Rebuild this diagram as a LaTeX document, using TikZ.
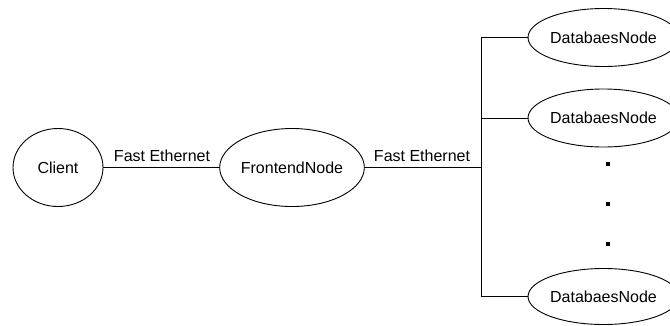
\documentclass[tikz,border=0pt]{standalone}
\usepackage{fontspec}
\setmainfont{Liberation Sans}
\usetikzlibrary{shapes.geometric}

\begin{document}
\begin{tikzpicture}[x=1pt, y=-1pt,
  every node/.style={font=\fontsize{16}{19}\selectfont, inner sep=0pt},
  host/.style={draw, ellipse, line width=0.9pt},
  link/.style={draw, line width=0.9pt},
  dotmark/.style={fill=black, rectangle, minimum size=4.5pt, inner sep=0pt}]
  \useasboundingbox (0,0) rectangle (670,325);

  % hosts
  \node[host, minimum width=90pt, minimum height=78pt] (client) at (58,167.5) {Client};
  \node[host, minimum width=142pt, minimum height=78pt] (frontend) at (292,167.5) {FrontendNode};
  \node[host, minimum width=130pt, minimum height=58pt] (db1) at (603.5,37.5) {DatabaesNode};
  \node[host, minimum width=130pt, minimum height=58pt] (db2) at (603.5,118) {DatabaesNode};
  \node[host, minimum width=130pt, minimum height=56pt] (db3) at (603.5,296.5) {DatabaesNode};

  % elided database nodes
  \node[dotmark] (d1) at (608,164) {};
  \node[dotmark] (d2) at (608,204) {};
  \node[dotmark] (d3) at (608,244) {};

  % backbone position
  \coordinate (bus) at (481,0);

  % links
  \draw[link] (client.east) -- (frontend.west);
  \draw[link] (frontend.east) -- (frontend.east -| bus);
  \draw[link] (db1.west) -- (db1.west -| bus) -- (db3.west -| bus) -- (db3.west);
  \draw[link] (db2.west) -- (db2.west -| bus);

  % link labels
  \node (l1) at (162,156) {Fast Ethernet};
  \node (l2) at (422,156) {Fast Ethernet};
\end{tikzpicture}
\end{document}
